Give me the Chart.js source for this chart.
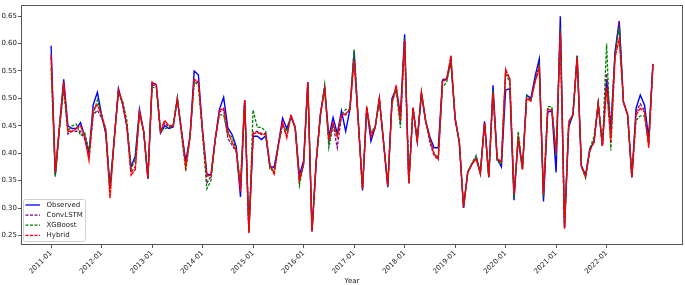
<!DOCTYPE html>
<html>
<head>
<meta charset="utf-8">
<script src="https://cdn.jsdelivr.net/npm/chart.js@4.4.1/dist/chart.umd.min.js"></script>
<style>
  html, body { margin: 0; padding: 0; background: #fff; }
  #wrap { width: 685px; height: 285px; }
</style>
</head>
<body>
<div id="wrap"><canvas id="chart" width="685" height="285"></canvas></div>
<script>
// monthly series, 2011-01 .. 2022-12 (index = months since 2011-01)
const observed = [
  0.596, 0.360, 0.450, 0.535, 0.450, 0.445, 0.445, 0.456, 0.430, 0.400, 0.488, 0.511,
  0.470, 0.435, 0.338, 0.425, 0.518, 0.490, 0.450, 0.375, 0.395, 0.480, 0.440, 0.353,
  0.528, 0.525, 0.437, 0.450, 0.445, 0.448, 0.500, 0.440, 0.385, 0.430, 0.550, 0.543,
  0.440, 0.362, 0.360, 0.425, 0.480, 0.502, 0.446, 0.434, 0.412, 0.320, 0.497, 0.258,
  0.431, 0.431, 0.425, 0.432, 0.376, 0.374, 0.416, 0.464, 0.445, 0.466, 0.447, 0.360,
  0.386, 0.530, 0.257, 0.385, 0.470, 0.520, 0.430, 0.465, 0.436, 0.477, 0.440, 0.480,
  0.585, 0.460, 0.332, 0.483, 0.422, 0.447, 0.500, 0.420, 0.338, 0.500, 0.518, 0.470,
  0.617, 0.345, 0.483, 0.422, 0.508, 0.458, 0.430, 0.410, 0.410, 0.533, 0.536, 0.570,
  0.464, 0.420, 0.300, 0.365, 0.380, 0.392, 0.365, 0.458, 0.356, 0.524, 0.390, 0.375,
  0.515, 0.518, 0.314, 0.430, 0.372, 0.506, 0.500, 0.540, 0.572, 0.312, 0.475, 0.477,
  0.365, 0.650, 0.265, 0.448, 0.470, 0.578, 0.377, 0.360, 0.408, 0.420, 0.491, 0.415,
  0.535, 0.440, 0.585, 0.641, 0.494, 0.470, 0.356, 0.482, 0.506, 0.488, 0.428, 0.563
];
const convLSTM = [
  0.575, 0.360, 0.445, 0.525, 0.435, 0.440, 0.440, 0.440, 0.425, 0.390, 0.470, 0.478,
  0.465, 0.440, 0.330, 0.425, 0.512, 0.490, 0.452, 0.365, 0.375, 0.475, 0.440, 0.355,
  0.525, 0.522, 0.438, 0.455, 0.448, 0.450, 0.498, 0.438, 0.378, 0.428, 0.533, 0.528,
  0.435, 0.345, 0.358, 0.425, 0.475, 0.480, 0.427, 0.415, 0.402, 0.335, 0.495, 0.256,
  0.438, 0.440, 0.436, 0.436, 0.378, 0.365, 0.414, 0.455, 0.432, 0.468, 0.446, 0.350,
  0.380, 0.528, 0.258, 0.385, 0.470, 0.518, 0.420, 0.452, 0.410, 0.468, 0.470, 0.480,
  0.575, 0.455, 0.335, 0.483, 0.435, 0.447, 0.498, 0.420, 0.342, 0.492, 0.520, 0.455,
  0.605, 0.347, 0.480, 0.422, 0.510, 0.458, 0.420, 0.395, 0.388, 0.535, 0.534, 0.570,
  0.462, 0.420, 0.302, 0.366, 0.380, 0.392, 0.362, 0.455, 0.358, 0.512, 0.388, 0.383,
  0.550, 0.535, 0.322, 0.428, 0.372, 0.500, 0.497, 0.532, 0.558, 0.322, 0.480, 0.480,
  0.395, 0.625, 0.264, 0.455, 0.470, 0.575, 0.378, 0.356, 0.405, 0.422, 0.490, 0.413,
  0.545, 0.450, 0.580, 0.640, 0.492, 0.470, 0.356, 0.475, 0.490, 0.478, 0.415, 0.560
];
const xgboost = [
  0.555, 0.357, 0.445, 0.515, 0.440, 0.450, 0.453, 0.432, 0.437, 0.405, 0.470, 0.497,
  0.470, 0.445, 0.335, 0.425, 0.510, 0.495, 0.460, 0.370, 0.390, 0.475, 0.440, 0.355,
  0.520, 0.520, 0.440, 0.445, 0.447, 0.450, 0.502, 0.432, 0.367, 0.428, 0.530, 0.525,
  0.435, 0.335, 0.350, 0.425, 0.470, 0.470, 0.434, 0.430, 0.405, 0.348, 0.497, 0.258,
  0.479, 0.447, 0.447, 0.440, 0.370, 0.368, 0.414, 0.452, 0.440, 0.468, 0.447, 0.341,
  0.380, 0.528, 0.258, 0.385, 0.470, 0.525, 0.410, 0.450, 0.435, 0.470, 0.480, 0.480,
  0.590, 0.458, 0.335, 0.480, 0.440, 0.447, 0.498, 0.420, 0.340, 0.495, 0.515, 0.446,
  0.610, 0.347, 0.480, 0.425, 0.510, 0.458, 0.425, 0.400, 0.392, 0.520, 0.530, 0.565,
  0.462, 0.420, 0.302, 0.366, 0.382, 0.396, 0.365, 0.455, 0.356, 0.515, 0.385, 0.380,
  0.545, 0.530, 0.318, 0.440, 0.372, 0.505, 0.497, 0.532, 0.560, 0.320, 0.485, 0.485,
  0.395, 0.628, 0.265, 0.455, 0.470, 0.578, 0.375, 0.355, 0.408, 0.430, 0.491, 0.413,
  0.600, 0.405, 0.580, 0.630, 0.492, 0.470, 0.356, 0.460, 0.468, 0.468, 0.420, 0.560
];
const hybrid = [
  0.580, 0.365, 0.450, 0.530, 0.440, 0.440, 0.445, 0.450, 0.430, 0.387, 0.480, 0.488,
  0.470, 0.440, 0.318, 0.425, 0.515, 0.490, 0.450, 0.360, 0.370, 0.475, 0.440, 0.355,
  0.530, 0.525, 0.440, 0.460, 0.450, 0.450, 0.498, 0.440, 0.375, 0.430, 0.535, 0.530,
  0.440, 0.358, 0.360, 0.425, 0.478, 0.482, 0.440, 0.420, 0.405, 0.330, 0.497, 0.254,
  0.435, 0.438, 0.434, 0.435, 0.378, 0.362, 0.414, 0.456, 0.428, 0.470, 0.447, 0.350,
  0.380, 0.530, 0.257, 0.385, 0.472, 0.518, 0.425, 0.455, 0.430, 0.470, 0.472, 0.480,
  0.570, 0.455, 0.335, 0.485, 0.430, 0.447, 0.500, 0.420, 0.340, 0.490, 0.524, 0.460,
  0.605, 0.345, 0.483, 0.422, 0.512, 0.460, 0.428, 0.398, 0.390, 0.530, 0.535, 0.578,
  0.464, 0.420, 0.301, 0.365, 0.380, 0.390, 0.362, 0.455, 0.356, 0.510, 0.390, 0.385,
  0.553, 0.535, 0.325, 0.425, 0.370, 0.500, 0.495, 0.530, 0.556, 0.325, 0.480, 0.478,
  0.400, 0.620, 0.262, 0.458, 0.470, 0.575, 0.377, 0.358, 0.404, 0.420, 0.491, 0.413,
  0.520, 0.420, 0.575, 0.608, 0.494, 0.470, 0.356, 0.470, 0.482, 0.475, 0.410, 0.563
];

const yearTicks = ['2011-01', '2012-01', '2013-01', '2014-01', '2015-01', '2016-01',
                   '2017-01', '2018-01', '2019-01', '2020-01', '2021-01', '2022-01'];
const yTicks = [0.25, 0.30, 0.35, 0.40, 0.45, 0.50, 0.55, 0.60, 0.65];

const toPoints = (arr) => arr.map((v, i) => ({ x: i, y: v }));
const tickFont = { family: 'DejaVu Sans', size: 7 };

// legend sits inside the plot, lower left
const boxLegend = {
  id: 'boxLegend',
  afterDraw(chart) {
    const ctx = chart.ctx;
    const x0 = 23.5, y0 = 199.5, w = 62, h = 42;
    ctx.save();
    ctx.fillStyle = 'rgba(255,255,255,0.8)';
    ctx.strokeStyle = '#d0d0d0';
    ctx.lineWidth = 1;
    ctx.beginPath();
    ctx.roundRect(x0, y0, w, h, 2);
    ctx.fill();
    ctx.stroke();
    ctx.font = '7px "DejaVu Sans"';
    ctx.textBaseline = 'middle';
    chart.data.datasets.forEach((ds, i) => {
      const y = 205 + i * 10.1;
      ctx.strokeStyle = ds.borderColor;
      ctx.lineWidth = 1.3;
      ctx.setLineDash(i === 0 ? [] : [3, 1.5]);
      ctx.beginPath();
      ctx.moveTo(25.5, y);
      ctx.lineTo(40, y);
      ctx.stroke();
      ctx.setLineDash([]);
      ctx.fillStyle = '#222';
      ctx.fillText(ds.label, 46.5, y);
    });
    // frame round the plot
    const a = chart.chartArea;
    ctx.strokeStyle = '#555';
    ctx.lineWidth = 1;
    ctx.strokeRect(Math.round(a.left) + 0.5, Math.round(a.top) + 0.5,
                   Math.round(a.right - a.left) - 1, Math.round(a.bottom - a.top) - 1);
    ctx.restore();
  }
};

// lower order is painted last, so Hybrid ends up on top as in the reference
new Chart(document.getElementById('chart'), {
  type: 'line',
  data: {
    datasets: [
      { label: 'Observed', data: toPoints(observed), borderColor: '#0000ff', borderWidth: 1.4, order: 3 },
      { label: 'ConvLSTM', data: toPoints(convLSTM), borderColor: '#800080', borderWidth: 1.3, borderDash: [3, 1.5], order: 2 },
      { label: 'XGBoost', data: toPoints(xgboost), borderColor: '#008000', borderWidth: 1.3, borderDash: [3, 1.5], order: 1 },
      { label: 'Hybrid', data: toPoints(hybrid), borderColor: '#ff0000', borderWidth: 1.4, borderDash: [6, 0.8], order: 0 }
    ]
  },
  options: {
    responsive: false,
    animation: false,
    layout: { padding: { top: 2, right: 2, left: 0, bottom: 0 } },
    elements: { point: { radius: 0 }, line: { tension: 0 } },
    plugins: { legend: { display: false }, tooltip: { enabled: false } },
    scales: {
      x: {
        type: 'linear',
        min: -7.15,
        max: 150.15,
        afterFit: (s) => { s.height = 40; },
        afterBuildTicks: (s) => { s.ticks = yearTicks.map((_, i) => ({ value: i * 12 })); },
        ticks: {
          callback: (v) => yearTicks[Math.round(v / 12)],
          minRotation: 45,
          maxRotation: 45,
          autoSkip: false,
          padding: 1,
          font: tickFont,
          color: '#222'
        },
        grid: { drawOnChartArea: false, tickLength: 3, color: '#555' },
        border: { display: false },
        title: { display: true, text: 'Year', font: tickFont, color: '#222', padding: { top: 0, bottom: 0 } }
      },
      y: {
        min: 0.2325,
        max: 0.670,
        afterFit: (s) => { s.width = 21; },
        afterBuildTicks: (s) => { s.ticks = yTicks.map((v) => ({ value: v })); },
        ticks: {
          callback: (v) => v.toFixed(2),
          padding: 1,
          font: tickFont,
          color: '#222'
        },
        grid: { drawOnChartArea: false, tickLength: 3, color: '#555' },
        border: { display: false }
      }
    }
  },
  plugins: [boxLegend]
});
</script>
</body>
</html>
